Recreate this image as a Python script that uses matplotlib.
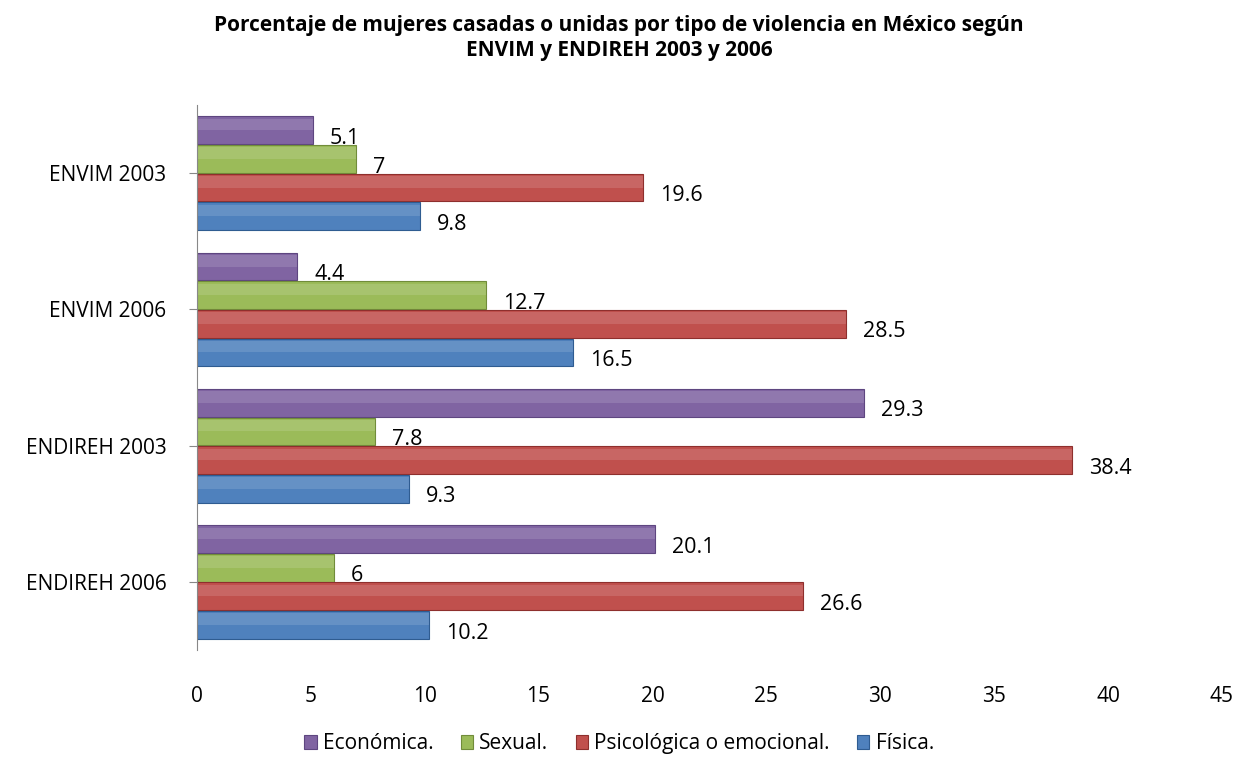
import numpy as np
import matplotlib.pyplot as plt

plt.rcParams['font.family'] = ['Open Sans', 'DejaVu Sans']

encuestas = ["ENVIM 2003", "ENVIM 2006", "ENDIREH 2003", "ENDIREH 2006"]
series = ["Económica.", "Sexual.", "Psicológica o emocional.", "Física."]
economica = [5.1, 4.4, 29.3, 20.1]
sexual = [7, 12.7, 7.8, 6]
psicologica = [19.6, 28.5, 38.4, 26.6]
fisica = [9.8, 16.5, 9.3, 10.2]
colores = ["#8064A2", "#9BBB59", "#C0504D", "#4F81BD"]
bordes = ["#5E4680", "#718C3A", "#8E2F2D", "#2F5C91"]

valores = [economica, sexual, psicologica, fisica]

fig = plt.figure(figsize=(12.38, 7.73), dpi=100)
ax = fig.add_axes([0.159, 0.159, 0.828, 0.705])

y = np.arange(len(encuestas))
h = 0.21
for i, (vals, c, b, nombre) in enumerate(zip(valores, colores, bordes, series)):
    pos = y - 1.5 * h + i * h
    ax.barh(pos, vals, height=h * 0.97, color=c, edgecolor=b, linewidth=0.8,
            label=nombre)
    # soft highlight on the upper part of each bar
    ax.barh(pos - h * 0.2, vals, height=h * 0.4, color="white", alpha=0.13,
            linewidth=0)
    for p, v in zip(pos, vals):
        ax.text(v + 0.75, p + 0.06, "%g" % v, va="center", ha="left",
                fontsize=15.5)

ax.set_ylim(3.5, -0.5)
ax.set_xlim(0, 45)
ax.set_xticks(np.arange(0, 46, 5))
ax.set_yticks(y)
ax.set_yticklabels(encuestas)
ax.tick_params(axis="y", length=6, labelsize=15, pad=16, color="#888888")
ax.tick_params(axis="x", length=0, labelsize=15, pad=26)
for s in ["top", "right", "bottom"]:
    ax.spines[s].set_visible(False)
ax.spines["left"].set_color("#888888")

fig.suptitle("Porcentaje de mujeres casadas o unidas por tipo de violencia en México según\nENVIM y ENDIREH 2003 y 2006",
             fontsize=15, fontweight="bold", y=0.98, x=0.5)

fig.legend(*ax.get_legend_handles_labels(), loc="lower center",
           bbox_to_anchor=(0.5, 0.0), ncol=4, frameon=False, fontsize=15,
           handlelength=0.6, handleheight=0.6, handletextpad=0.3,
           columnspacing=1.3)

fig.savefig("out.png", dpi=100)
